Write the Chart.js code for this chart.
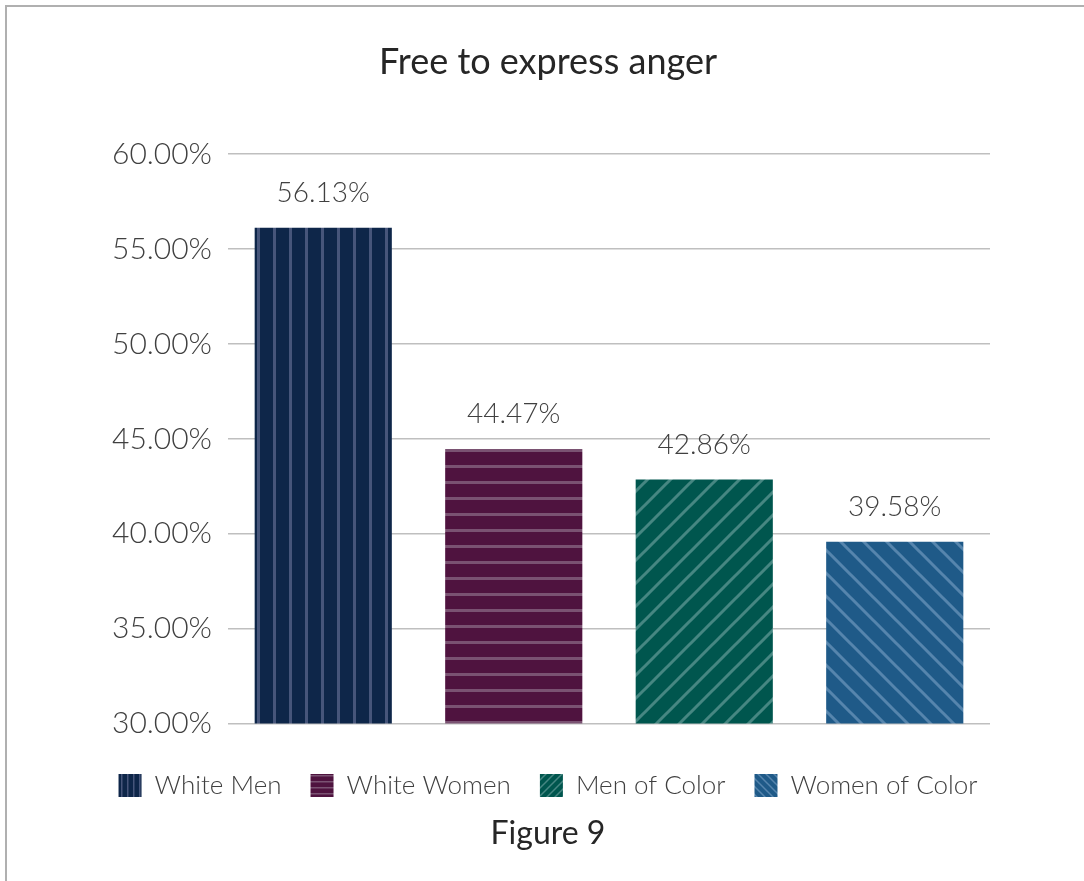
<!DOCTYPE html>
<html lang="en">
<head>
  <meta charset="UTF-8">
  <title>Free to express anger</title>
  <script src="https://cdn.jsdelivr.net/npm/chart.js"></script>
  <style>
    body {
      margin: 0;
      background-color: #fff;
      overflow: hidden;
      font-family: Lato, sans-serif;
    }
    #frame {
      position: absolute;
      left: 5px;
      top: 5px;
      width: 1200px;
      height: 1000px;
      border: 2px solid #b0b0b0;
    }
    #wrap {
      position: absolute;
      left: 0;
      top: 0;
      width: 1084px;
      height: 881px;
    }
  </style>
</head>
<body>
  <div id="frame"></div>
  <div id="wrap"><canvas id="angerChart"></canvas></div>

  <script>
    const groups = ['White Men', 'White Women', 'Men of Color', 'Women of Color'];
    const values = [56.13, 44.47, 42.86, 39.58];
    const yTicks = [30, 35, 40, 45, 50, 55, 60];

    const baseColors = ['#0e2649', '#4f133f', '#00564e', '#1f5a88'];
    const stripeColors = ['#46557a', '#7a5272', '#468782', '#5685ad'];
    const stripeKinds = ['vertical', 'horizontal', 'up', 'down'];

    // stripe fills like the Excel pattern fills (k < 1 = denser, for the legend swatches)
    function makePattern(bg, fg, kind, k = 1) {
      const c = document.createElement('canvas');
      const s = Math.round(((kind === 'vertical' || kind === 'horizontal') ? 16 : 23) * k);
      const w = Math.max(1.5, 3 * k);
      c.width = s;
      c.height = s;
      const g = c.getContext('2d');
      g.fillStyle = bg;
      g.fillRect(0, 0, s, s);
      g.strokeStyle = fg;
      g.fillStyle = fg;
      g.lineWidth = w;
      if (kind === 'vertical') {
        g.fillRect(1, 0, w, s);
      } else if (kind === 'horizontal') {
        g.fillRect(0, 1, s, w);
      } else if (kind === 'up') {
        g.beginPath();
        g.moveTo(-3, s + 3); g.lineTo(s + 3, -3);
        g.moveTo(-3, 3); g.lineTo(3, -3);
        g.moveTo(s - 3, s + 3); g.lineTo(s + 3, s - 3);
        g.stroke();
      } else {
        g.beginPath();
        g.moveTo(-3, -3); g.lineTo(s + 3, s + 3);
        g.moveTo(s - 3, -3); g.lineTo(s + 3, 3);
        g.moveTo(-3, s - 3); g.lineTo(3, s + 3);
        g.stroke();
      }
      return g.createPattern(c, 'repeat');
    }

    const legendFills = groups.map((_, i) => makePattern(baseColors[i], stripeColors[i], stripeKinds[i], 0.36));

    const datasets = groups.map((name, i) => ({
      label: name,
      data: [values[i]],
      backgroundColor: makePattern(baseColors[i], stripeColors[i], stripeKinds[i]),
      borderWidth: 0,
      barPercentage: 0.72,
      categoryPercentage: 1.0
    }));

    // value labels above the bars
    const valueLabels = {
      id: 'valueLabels',
      afterDatasetsDraw(chart) {
        const ctx = chart.ctx;
        ctx.save();
        ctx.font = '300 28px Lato, sans-serif';
        ctx.fillStyle = '#404040';
        ctx.textAlign = 'center';
        ctx.textBaseline = 'bottom';
        chart.data.datasets.forEach((ds, i) => {
          const bar = chart.getDatasetMeta(i).data[0];
          ctx.fillText(ds.data[0].toFixed(2) + '%', bar.x, bar.y - 21);
        });
        ctx.restore();
      }
    };

    const ctx = document.getElementById('angerChart').getContext('2d');
    new Chart(ctx, {
      type: 'bar',
      data: {
        labels: ['Free to express anger'],
        datasets: datasets
      },
      options: {
        responsive: true,
        maintainAspectRatio: false,
        animation: false,
        layout: {
          padding: { left: 12, right: 0, top: 20, bottom: 28 }
        },
        plugins: {
          title: {
            display: true,
            text: 'Free to express anger',
            color: '#262626',
            font: { family: 'Lato', size: 36, weight: 'normal' },
            padding: { top: 21, bottom: 70 }
          },
          subtitle: {
            display: true,
            position: 'bottom',
            text: 'Figure 9',
            color: '#262626',
            font: { family: 'Lato', size: 32, weight: 'normal' },
            padding: { top: 6, bottom: 0 }
          },
          legend: {
            position: 'bottom',
            labels: {
              boxWidth: 23,
              boxHeight: 23,
              padding: 29,
              color: '#404040',
              font: { family: 'Lato', size: 26, weight: '300' },
              generateLabels(chart) {
                const items = Chart.defaults.plugins.legend.labels.generateLabels(chart);
                items.forEach((it, i) => {
                  it.fillStyle = legendFills[i];
                  it.lineWidth = 0;
                });
                return items;
              }
            }
          },
          tooltip: { enabled: false }
        },
        scales: {
          x: {
            display: true,
            border: { display: false },
            grid: { display: false },
            ticks: { display: false },
            afterFit(axis) {
              axis.height = 20;
            }
          },
          y: {
            min: 30,
            max: 60,
            afterBuildTicks(axis) {
              axis.ticks = yTicks.map(v => ({ value: v }));
            },
            afterFit(axis) {
              axis.width = 216;
            },
            border: { display: false },
            grid: {
              color: '#bfbfbf',
              lineWidth: 1.5,
              drawTicks: false
            },
            ticks: {
              padding: 16,
              color: '#404040',
              font: { family: 'Lato', size: 30, weight: '300' },
              callback: v => v.toFixed(2) + '%'
            }
          },
          // empty right margin so the plot ends where the reference does
          yRight: {
            type: 'linear',
            position: 'right',
            min: 30,
            max: 60,
            border: { display: false },
            grid: { display: false },
            ticks: { display: false },
            afterFit(axis) {
              axis.width = 94;
            }
          }
        }
      },
      plugins: [valueLabels]
    });
  </script>
</body>
</html>
